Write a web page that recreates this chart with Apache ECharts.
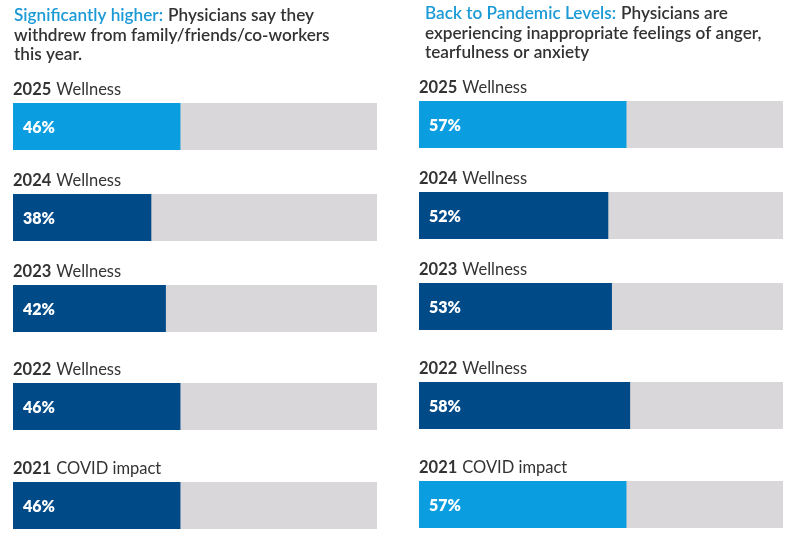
<!DOCTYPE html>
<html><head><meta charset="utf-8">
<script src="https://cdn.jsdelivr.net/npm/echarts@6/dist/echarts.min.js"></script>
<style>html,body{margin:0;padding:0;background:#fff}#c{width:797px;height:544px}</style>
</head><body><div id="c"></div>
<script>
const years = ['2025', '2024', '2023', '2022', '2021'];
const surveys = ['Wellness', 'Wellness', 'Wellness', 'Wellness', 'COVID impact'];
const leftValues = [46, 38, 42, 46, 46];
const rightValues = [57, 52, 53, 58, 57];
const leftHighlight = [true, false, false, false, false];
const rightHighlight = [true, false, false, false, true];
const leftHeader = { accent: 'Significantly higher:', lines: ['Physicians say they', 'withdrew from family/friends/co-workers', 'this year.'] };
const rightHeader = { accent: 'Back to Pandemic Levels:', lines: ['Physicians are', 'experiencing inappropriate feelings of anger,', 'tearfulness or anxiety'] };

const LIGHT = '#0a9ddf', DARK = '#004a87', GRAY = '#d9d7d9', TEXT = '#333333', ACCENT = '#1b9ad6';
const FONT = 'Lato';
const panels = [
  { x: 13, tops: [103, 194, 285, 383, 482], values: leftValues, hl: leftHighlight, header: leftHeader, hx: 14, hy: 6 },
  { x: 419, tops: [101, 192, 283, 382, 481], values: rightValues, hl: rightHighlight, header: rightHeader, hx: 425, hy: 4 }
];
const BAR_W = 364, BAR_H = 47;

const grid = [], xAxis = [], yAxis = [], series = [], title = [];
let gi = 0;
panels.forEach(p => {
  title.push({
    left: p.hx, top: p.hy, padding: 0,
    text: '{a|' + p.header.accent + '} {b|' + p.header.lines[0] + '}\n{b|' + p.header.lines[1] + '}\n{b|' + p.header.lines[2] + '}',
    textStyle: {
      rich: {
        a: { color: ACCENT, fontSize: 17.2, fontWeight: 600, fontFamily: FONT, lineHeight: 19.5 },
        b: { color: TEXT, fontSize: 17.2, fontWeight: 600, fontFamily: FONT, lineHeight: 19.5 }
      }
    }
  });
  p.values.forEach((v, i) => {
    const top = p.tops[i];
    grid.push({ left: p.x, top: top, width: BAR_W, height: BAR_H, containLabel: false });
    xAxis.push({ gridIndex: gi, type: 'value', min: 0, max: 100, show: false });
    yAxis.push({ gridIndex: gi, type: 'category', data: [years[i] + ' ' + surveys[i]], show: false });
    series.push({
      type: 'bar', xAxisIndex: gi, yAxisIndex: gi,
      data: [v], barWidth: BAR_H,
      showBackground: true, backgroundStyle: { color: GRAY },
      itemStyle: { color: p.hl[i] ? LIGHT : DARK },
      label: { show: true, position: 'insideLeft', distance: 10, offset: [0, 1], formatter: '{c}%', color: '#fff', fontSize: 16, fontWeight: 800, fontFamily: FONT },
      silent: true, animation: false
    });
    title.push({
      left: p.x, top: top - 22, padding: 0,
      text: '{y|' + years[i] + '} {s|' + surveys[i] + '}',
      textStyle: {
        rich: {
          y: { color: TEXT, fontSize: 16.5, fontWeight: 700, fontFamily: FONT, lineHeight: 16 },
          s: { color: TEXT, fontSize: 16.5, fontWeight: 400, fontFamily: FONT, lineHeight: 16 }
        }
      }
    });
    gi++;
  });
});

const chart = echarts.init(document.getElementById('c'));
chart.setOption({ animation: false, title, grid, xAxis, yAxis, series });
</script></body></html>
